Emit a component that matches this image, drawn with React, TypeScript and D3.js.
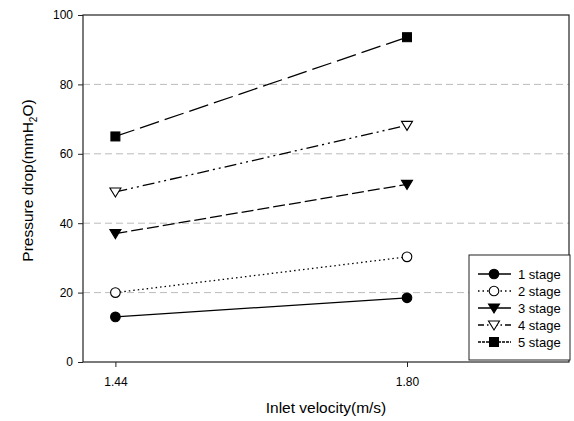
import React, { useEffect, useRef } from "react";
import * as d3 from "d3";

const velocities = [1.44, 1.8];
const xTicks = [1.44, 1.8];
const yTicks = [0, 20, 40, 60, 80, 100];
const gridValues = [20, 40, 60, 80];

const stageNames = ["1 stage", "2 stage", "3 stage", "4 stage", "5 stage"];
const stage1 = [13, 18.5];
const stage2 = [20, 30.3];
const stage3 = [37, 51.2];
const stage4 = [49, 68.2];
const stage5 = [65, 93.6];
const stageValues = [stage1, stage2, stage3, stage4, stage5];

const dashes = ["", "1.5,3", "12,4", "12,4,2,4,2,4", "20,6"];
const legendDashes = ["", "1.5,3", "", "6,3,1.5,3", "3,1"];
const markers = ["circle", "circle", "triangle", "triangle", "square"];
const filled = [true, false, true, false, true];

const W = 574, H = 421;
const margin = { top: 15, right: 5, bottom: 59, left: 83 };

function drawMarker(g: any, kind: string, fill: boolean, x: number, y: number) {
  const color = fill ? "#000" : "#fff";
  if (kind === "circle") {
    g.append("circle").attr("cx", x).attr("cy", y).attr("r", 4.8)
      .attr("fill", color).attr("stroke", "#000").attr("stroke-width", 1.1);
  } else if (kind === "triangle") {
    g.append("path")
      .attr("d", `M${x - 5.5},${y - 4} L${x + 5.5},${y - 4} L${x},${y + 5} Z`)
      .attr("fill", color).attr("stroke", "#000").attr("stroke-width", 1.1);
  } else {
    g.append("rect").attr("x", x - 4.5).attr("y", y - 4.5).attr("width", 9).attr("height", 9)
      .attr("fill", color).attr("stroke", "#000");
  }
}

export default function App() {
  const ref = useRef<SVGSVGElement>(null);

  useEffect(() => {
    const svg = d3.select(ref.current);
    svg.selectAll("*").remove();
    const w = W - margin.left - margin.right;
    const h = H - margin.top - margin.bottom;

    const x = d3.scaleLinear().domain([1.4, 2.0]).range([margin.left, margin.left + w]);
    const y = d3.scaleLinear().domain([0, 100]).range([margin.top + h, margin.top]);

    const font = "'Liberation Sans', Arial, sans-serif";

    // grid
    svg.append("g").selectAll("line").data(gridValues).join("line")
      .attr("x1", margin.left).attr("x2", margin.left + w)
      .attr("y1", d => y(d)).attr("y2", d => y(d))
      .attr("stroke", "#aaa").attr("stroke-width", 0.8).attr("stroke-dasharray", "7,4");

    // frame
    svg.append("rect").attr("x", margin.left).attr("y", margin.top)
      .attr("width", w).attr("height", h)
      .attr("fill", "none").attr("stroke", "#222").attr("stroke-width", 1.2);

    // y axis
    const yAxis = svg.append("g").attr("transform", `translate(${margin.left},0)`)
      .call(d3.axisLeft(y).tickValues(yTicks).tickSize(5).tickFormat(d3.format("d")));
    yAxis.select(".domain").remove();
    yAxis.selectAll("text").attr("font-family", font).attr("font-size", 12).attr("fill", "#000").attr("dx", "-2");
    yAxis.selectAll("line").attr("stroke", "#222");

    // x axis
    const xAxis = svg.append("g").attr("transform", `translate(0,${margin.top + h})`)
      .call(d3.axisBottom(x).tickValues(xTicks).tickSize(5).tickFormat(d3.format(".2f")));
    xAxis.select(".domain").remove();
    xAxis.selectAll("text").attr("font-family", font).attr("font-size", 12).attr("fill", "#000").attr("dy", "1.35em");
    xAxis.selectAll("line").attr("stroke", "#222");

    // series
    const line = d3.line<number>().x((_, i) => x(velocities[i])).y(d => y(d));
    stageValues.forEach((vals, s) => {
      svg.append("path").datum(vals).attr("d", line)
        .attr("fill", "none").attr("stroke", "#000").attr("stroke-width", 1.3)
        .attr("stroke-dasharray", dashes[s] || null);
      const g = svg.append("g");
      vals.forEach((v, i) => drawMarker(g, markers[s], filled[s], x(velocities[i]), y(v)));
    });

    // axis titles
    svg.append("text").attr("x", margin.left + w / 2).attr("y", 413)
      .attr("text-anchor", "middle").attr("font-family", font).attr("font-size", 15.5)
      .text("Inlet velocity(m/s)");

    const yt = svg.append("text")
      .attr("transform", `translate(33,${margin.top + h / 2 - 8}) rotate(-90)`)
      .attr("text-anchor", "middle").attr("font-family", font).attr("font-size", 15.5);
    yt.append("tspan").text("Pressure drop(mmH");
    yt.append("tspan").attr("font-size", 10).attr("dy", 4).text("2");
    yt.append("tspan").attr("dy", -4).text("O)");

    // legend
    const lg = svg.append("g");
    lg.append("rect").attr("x", 469).attr("y", 255).attr("width", 101).attr("height", 105)
      .attr("fill", "#fff").attr("stroke", "#222").attr("stroke-width", 1);
    stageNames.forEach((name, s) => {
      const ly = 274 + s * 17;
      lg.append("line").attr("x1", 478).attr("x2", 511).attr("y1", ly).attr("y2", ly)
        .attr("stroke", "#000").attr("stroke-width", 1.3)
        .attr("stroke-dasharray", legendDashes[s] || null);
      drawMarker(lg, markers[s], filled[s], 494, ly);
      lg.append("text").attr("x", 518).attr("y", ly + 4.5)
        .attr("font-family", font).attr("font-size", 13).text(name);
    });
  }, []);

  return <svg ref={ref} width={W} height={H} style={{ position: "absolute", left: 0, top: 0 }} />;
}
